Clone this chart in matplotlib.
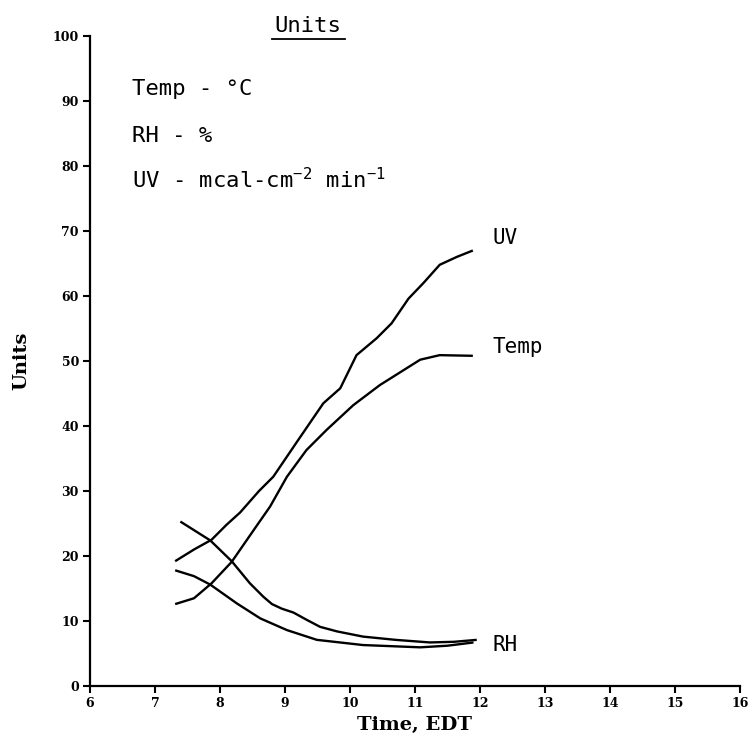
import matplotlib
matplotlib.use("Agg")
import matplotlib.pyplot as plt
from matplotlib.lines import Line2D

# ---- data ----
uv_time = [7.31, 7.6, 7.87, 8.1, 8.31, 8.6, 8.82, 9.2, 9.59, 9.85, 10.1, 10.41, 10.64, 10.9, 11.13, 11.38, 11.64, 11.89]
uv = [19.2, 21.0, 22.5, 24.8, 26.7, 30.0, 32.2, 37.8, 43.5, 45.8, 50.9, 53.5, 55.8, 59.6, 62.0, 64.8, 66.0, 67.0]

temp_time = [7.31, 7.6, 7.87, 8.18, 8.54, 8.77, 9.03, 9.33, 9.64, 10.05, 10.46, 11.08, 11.38, 11.89]
temp = [12.6, 13.5, 15.8, 19.1, 24.3, 27.6, 32.2, 36.3, 39.4, 43.2, 46.3, 50.2, 50.9, 50.8]

rh1_time = [7.39, 7.85, 8.18, 8.46, 8.67, 8.8, 8.95, 9.13, 9.33, 9.54, 9.8, 10.2, 10.7, 11.23, 11.6, 11.95]
rh1 = [25.3, 22.4, 19.2, 15.8, 13.7, 12.6, 11.9, 11.3, 10.2, 9.1, 8.4, 7.6, 7.1, 6.7, 6.8, 7.1]

rh2_time = [7.31, 7.6, 7.85, 8.26, 8.62, 9.03, 9.49, 10.2, 11.08, 11.5, 11.9]
rh2 = [17.8, 16.9, 15.6, 12.7, 10.4, 8.6, 7.1, 6.3, 5.95, 6.2, 6.7]

x_ticks = list(range(6, 17))
y_ticks = list(range(0, 101, 10))

series_labels = ["UV", "Temp", "RH"]
unit_lines = ["Temp - °C", "RH - %", r"UV - mcal-cm$^{\mathtt{-2}}$ min$^{\mathtt{-1}}$"]

# ---- figure ----
plt.rcParams["mathtext.fontset"] = "dejavusans"
fig = plt.figure(figsize=(7.55, 7.5), dpi=100)
ax = fig.add_axes([90 / 755, 1 - 686 / 750, 650 / 755, 650 / 750])

lw = 1.7
for xs, ys in [(uv_time, uv), (temp_time, temp), (rh1_time, rh1), (rh2_time, rh2)]:
    ax.plot(xs, ys, color="black", lw=lw, solid_capstyle="butt", solid_joinstyle="round")

ax.set_xlim(6, 16)
ax.set_ylim(0, 100)
ax.set_xticks(x_ticks)
ax.set_yticks(y_ticks)
ax.spines["top"].set_visible(False)
ax.spines["right"].set_visible(False)
for s in ["left", "bottom"]:
    ax.spines[s].set_linewidth(1.6)
ax.tick_params(direction="out", length=5, width=1.5, pad=3)
for lab in ax.get_xticklabels() + ax.get_yticklabels():
    lab.set_fontfamily("DejaVu Serif")
    lab.set_fontweight("bold")
    lab.set_fontsize(9)

ax.set_xlabel("Time, EDT", fontfamily="DejaVu Serif", fontweight="bold", fontsize=14, labelpad=4)
ax.set_ylabel("Units", fontfamily="DejaVu Serif", fontweight="bold", fontsize=14, labelpad=16)

mono = "DejaVu Sans Mono"
# curve labels
ax.text(12.2, 68.9, series_labels[0], family=mono, fontsize=15, va="center", ha="left")
ax.text(12.2, 52.2, series_labels[1], family=mono, fontsize=15, va="center", ha="left")
ax.text(12.2, 6.3, series_labels[2], family=mono, fontsize=15, va="center", ha="left")

# units box text
for yv, txt in zip([90.9, 83.7, 76.6], unit_lines):
    ax.text(6.65, yv, txt, family=mono, fontsize=16, va="baseline", ha="left")

# title "Units" underlined
fig.text(308 / 755, 1 - 32 / 750, "Units", family=mono, fontsize=16, ha="center", va="baseline")
fig.add_artist(Line2D([272 / 755, 345 / 755], [1 - 39 / 750, 1 - 39 / 750], color="black", lw=1.3,
                      transform=fig.transFigure))

fig.savefig("out.png", dpi=100)
